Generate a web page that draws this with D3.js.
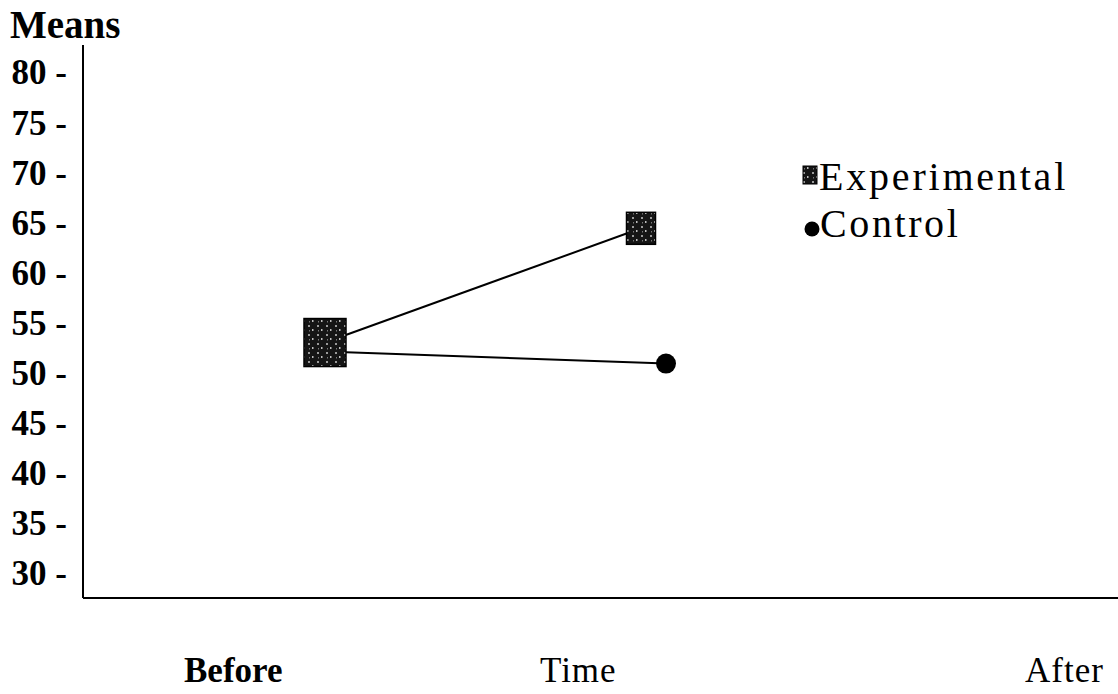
<!DOCTYPE html>
<html>
<head>
<meta charset="utf-8">
<script src="https://cdn.jsdelivr.net/npm/d3@7"></script>
<style>
  html, body { margin: 0; padding: 0; background: #fff; }
  svg { display: block; }
  text { font-family: "Liberation Serif", "Times New Roman", serif; fill: #000; }
</style>
</head>
<body>
<svg id="chart" width="1118" height="694"></svg>
<script>
// ---- data ----
const timePoints = ["Before", "After"];
const seriesNames = ["Experimental", "Control"];
const experimentalMeans = [53.0, 64.4];
const controlMeans = [52.1, 50.9];
const yTicks = [30, 35, 40, 45, 50, 55, 60, 65, 70, 75, 80];
const yAxisTitle = "Means";
const xAxisTitle = "Time";

// ---- layout ----
const svg = d3.select("#chart");
const axisX = 83, axisBottom = 598, axisTop = 45;

const y = d3.scaleLinear().domain([30, 80]).range([573, 72]);
const x = d3.scalePoint().domain(timePoints).range([325, 653]);

// speckled fill pattern for squares
const defs = svg.append("defs");
const pat = defs.append("pattern").attr("id", "speck").attr("patternUnits", "userSpaceOnUse")
  .attr("width", 9).attr("height", 9);
pat.append("rect").attr("width", 9).attr("height", 9).attr("fill", "#151515");
pat.append("rect").attr("x", 2).attr("y", 1).attr("width", 2).attr("height", 2).attr("fill", "#9a9a9a");
pat.append("rect").attr("x", 6).attr("y", 5).attr("width", 1.5).attr("height", 2).attr("fill", "#bdbdbd");
pat.append("rect").attr("x", 3).attr("y", 6).attr("width", 1).attr("height", 1.5).attr("fill", "#777");

// y axis (labels only, with dash)
const yAxis = d3.axisLeft(y).tickValues(yTicks).tickSize(0).tickPadding(16)
  .tickFormat(d => d + " -");
const gy = svg.append("g").attr("transform", `translate(${axisX},0)`).call(yAxis);
gy.select(".domain").remove();
gy.selectAll("text").style("font-family", "'Liberation Serif', serif")
  .style("font-size", "35px").style("font-weight", "bold").attr("dy", "0.34em");

// axis lines
svg.append("line").attr("x1", axisX).attr("x2", axisX).attr("y1", axisTop).attr("y2", axisBottom)
  .attr("stroke", "#000").attr("stroke-width", 2);
svg.append("line").attr("x1", axisX).attr("x2", 1118).attr("y1", axisBottom).attr("y2", axisBottom)
  .attr("stroke", "#000").attr("stroke-width", 2);

// titles
svg.append("text").attr("x", 10).attr("y", 38).text(yAxisTitle)
  .style("font-size", "39px").style("font-weight", "bold");
svg.append("text").attr("x", 184).attr("y", 682).text(timePoints[0])
  .style("font-size", "35px").style("font-weight", "bold");
svg.append("text").attr("x", 540).attr("y", 682).text(xAxisTitle)
  .style("font-size", "35px").style("letter-spacing", "1px");
svg.append("text").attr("x", 1025).attr("y", 682).text(timePoints[1])
  .style("font-size", "35px").style("letter-spacing", "1px");

// series
const dodge = { Experimental: [0, -12], Control: [0, 13] };
const series = [
  { name: seriesNames[0], values: experimentalMeans },
  { name: seriesNames[1], values: controlMeans }
];
const pts = s => s.values.map((v, i) => [x(timePoints[i]) + dodge[s.name][i], y(v)]);

const line = d3.line();
series.forEach(s => {
  svg.append("path").attr("d", line(pts(s))).attr("fill", "none")
    .attr("stroke", "#000").attr("stroke-width", 2);
});

// control markers
const cp = pts(series[1]);
svg.append("circle").attr("cx", cp[1][0]).attr("cy", cp[1][1]).attr("r", 10).attr("fill", "#000");

// experimental markers (before larger, as in original)
const ep = pts(series[0]);
const sqSizes = [[42, 48], [29, 32]];
ep.forEach((p, i) => {
  svg.append("rect").attr("x", p[0] - sqSizes[i][0] / 2).attr("y", p[1] - sqSizes[i][1] / 2)
    .attr("width", sqSizes[i][0]).attr("height", sqSizes[i][1])
    .attr("fill", "url(#speck)").attr("stroke", "#000").attr("stroke-width", 1.5);
});

// legend
const lg = svg.append("g");
lg.append("rect").attr("x", 803).attr("y", 166).attr("width", 14).attr("height", 18)
  .attr("fill", "url(#speck)").attr("stroke", "#000");
lg.append("text").attr("x", 819).attr("y", 190).text(seriesNames[0])
  .style("font-size", "40px").style("letter-spacing", "2.8px");
lg.append("circle").attr("cx", 812).attr("cy", 229).attr("r", 7.5).attr("fill", "#000");
lg.append("text").attr("x", 820).attr("y", 237).text(seriesNames[1])
  .style("font-size", "40px").style("letter-spacing", "2.6px");
</script>
</body>
</html>
